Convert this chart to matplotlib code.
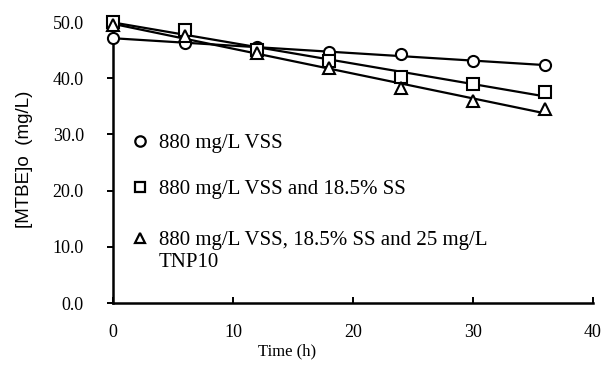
import numpy as np
import matplotlib
matplotlib.use("Agg")
import matplotlib.pyplot as plt
from matplotlib.lines import Line2D

time_h = [0, 6, 12, 18, 24, 30, 36]
vss = [47.2, 46.2, 45.5, 44.6, 44.3, 43.0, 42.3]
vss_ss = [50.0, 48.6, 45.0, 43.0, 40.3, 39.0, 37.5]
vss_ss_tnp = [49.5, 47.5, 44.5, 41.8, 38.2, 36.0, 34.5]
labels = ["880 mg/L VSS", "880 mg/L VSS and 18.5% SS",
          "880 mg/L VSS, 18.5% SS and 25 mg/L", "TNP10"]
markers = ["o", "s", "^"]

plt.rcParams['font.family'] = ['Liberation Serif', 'DejaVu Serif']
fig = plt.figure(figsize=(6.06, 3.74), dpi=100)
ax = fig.add_axes([0.1865, 0.1898, 0.792, 0.7513])

t = np.array(time_h, dtype=float)
handles = []
for y, m in zip([vss, vss_ss, vss_ss_tnp], markers):
    ax.plot(t, y, linestyle='none', marker=m, mfc='white', mec='black',
            ms=8, mew=1.5, clip_on=False, zorder=3)
    coef = np.polyfit(t, y, 1)
    ax.plot(t, np.polyval(coef, t), color='black', lw=1.6, zorder=2)
    handles.append(Line2D([], [], linestyle='none', marker=m, mfc='white',
                          mec='black', ms=7.5, mew=1.6))

ax.set_xlim(0, 40)
ax.set_ylim(0, 50)
ax.set_xticks([0, 10, 20, 30, 40])
yt = [0, 10, 20, 30, 40, 50]
ax.set_yticks(yt)
ax.set_yticklabels([f"{v:.1f}" for v in yt])
for s in ['top', 'right']:
    ax.spines[s].set_visible(False)
for s in ['left', 'bottom']:
    ax.spines[s].set_linewidth(1.8)
ax.tick_params(axis='y', direction='out', length=4, width=1.4, labelsize=13, pad=17)
ax.tick_params(axis='x', direction='in', length=4, width=1.4, labelsize=13, pad=15)
ax.set_xlabel("Time (h)", fontsize=12)
ax.xaxis.set_label_coords(0.3625, -0.145)
ax.set_ylabel("[MTBE]o  (mg/L)", fontsize=13.5,
              family=['Liberation Sans', 'DejaVu Sans'])
ax.yaxis.set_label_coords(-0.167, 0.51)

common = dict(frameon=False, fontsize=15, handlelength=0.8, handletextpad=0.5,
              borderpad=0, borderaxespad=0, loc='center left')
leg1 = ax.legend(handles=handles[:2], labels=labels[:2],
                 bbox_to_anchor=(0.0396, 0.486), labelspacing=1.25, **common)
ax.add_artist(leg1)
blank = Line2D([], [], linestyle='none', marker=None)
leg2 = ax.legend(handles=[handles[2], blank], labels=labels[2:],
                 bbox_to_anchor=(0.0396, 0.185), labelspacing=0.1, **common)

fig.savefig("out.png", dpi=100)
